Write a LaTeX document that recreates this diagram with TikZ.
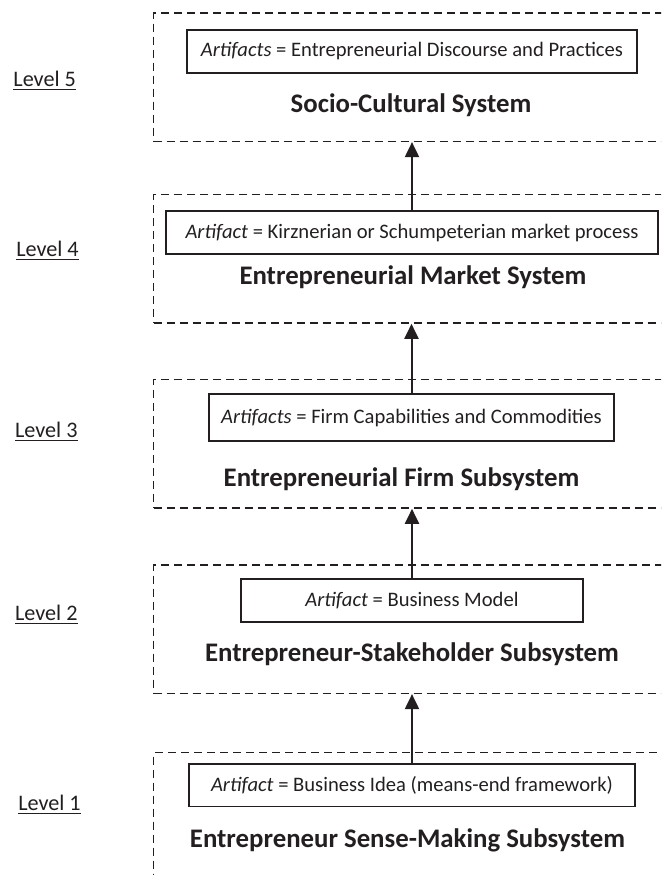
\documentclass[tikz,border=0pt]{standalone}
\usepackage{fontspec}
\setmainfont{Carlito}
\usepackage{tikz}
\usetikzlibrary{arrows.meta}

\definecolor{inkgray}{HTML}{231F20}

\tikzset{
  levelbox/.style={draw, dashed, dash pattern=on 4pt off 2.5pt, line width=0.7pt,
    anchor=north west, minimum width=300pt, minimum height=64.2pt, inner sep=0pt},
  artbox/.style={draw, line width=0.9pt, inner sep=0pt, minimum height=21.4pt,
    font=\fontsize{10.3}{12}\selectfont},
  systitle/.style={anchor=base, font=\fontsize{13.4}{16}\selectfont\bfseries},
  levellabel/.style={anchor=base, font=\fontsize{11.1}{13}\selectfont},
  uparrow/.style={-{Triangle[width=7pt,length=7.5pt]}, line width=1pt}
}

\begin{document}
\begin{tikzpicture}[x=0.5pt, y=-0.5pt, color=inkgray]
        \useasboundingbox (0,0) rectangle (661,875);
        \clip (0,0) rectangle (661,875);

        % dashed level frames (open on the right)
        \node[levelbox] (sys5) at (153,12.3) {};
        \node[levelbox] (sys4) at (153,194) {};
        \node[levelbox] (sys3) at (153,379) {};
        \node[levelbox] (sys2) at (153,564.3) {};
        \node[levelbox, minimum height=100pt] (sys1) at (153,752) {};

        % artifact boxes
        \node[artbox, minimum width=225pt] (art5) at (412,51.3) {\textit{Artifacts} = Entrepreneurial Discourse and Practices};
        \node[artbox, minimum width=246pt] (art4) at (412,232.5) {\textit{Artifact} = Kirznerian or Schumpeterian market process};
        \node[artbox, minimum width=202.5pt, minimum height=23.4pt] (art3) at (411.5,417.5) {\textit{Artifacts} = Firm Capabilities and Commodities};
        \node[artbox, minimum width=171pt] (art2) at (412,600.5) {\textit{Artifact} = Business Model};
        \node[artbox, minimum width=223pt] (art1) at (412,785) {\textit{Artifact} = Business Idea (means-end framework)};

        % system titles
        \node[systitle] (title5) at (411,112.7) {Socio-Cultural System};
        \node[systitle] (title4) at (413,284) {Entrepreneurial Market System};
        \node[systitle] (title3) at (401.5,486.7) {Entrepreneurial Firm Subsystem};
        \node[systitle] (title2) at (412,661.7) {Entrepreneur-Stakeholder Subsystem};
        \node[systitle] (title1) at (407.5,847.3) {Entrepreneur Sense-Making Subsystem};

        % level labels
        \node[levellabel] (lev5) at (44.7,86) {\underline{Level 5}};
        \node[levellabel] (lev4) at (47.5,256) {\underline{Level 4}};
        \node[levellabel] (lev3) at (46.3,437.3) {\underline{Level 3}};
        \node[levellabel] (lev2) at (46.3,620.7) {\underline{Level 2}};
        \node[levellabel] (lev1) at (49.5,810) {\underline{Level 1}};

        \draw[uparrow] (art1.north) -- (art1.north |- sys2.south);
        \draw[uparrow] (art2.north) -- (art2.north |- sys3.south);
        \draw[uparrow] (art3.north) -- (art3.north |- sys4.south);
        \draw[uparrow] (art4.north) -- (art4.north |- sys5.south);
\end{tikzpicture}
\end{document}
